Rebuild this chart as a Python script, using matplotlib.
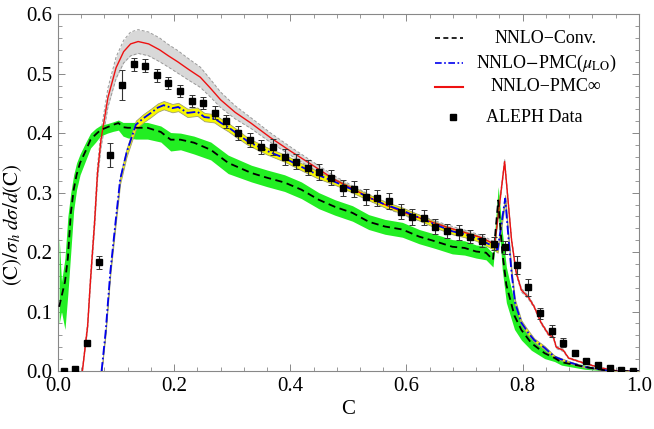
import numpy as np
import matplotlib
matplotlib.use("Agg")
import matplotlib.pyplot as plt
from matplotlib.ticker import MultipleLocator
from matplotlib.lines import Line2D

plt.rcParams["font.family"] = ["Liberation Serif", "DejaVu Serif"]
plt.rcParams["mathtext.fontset"] = "stix"

# ALEPH data (bin centres, values, errors)
x_data = [0.01, 0.03, 0.05, 0.07, 0.09, 0.11, 0.13, 0.15, 0.17, 0.19,
          0.21, 0.23, 0.25, 0.27, 0.29, 0.31, 0.33, 0.35, 0.37, 0.39,
          0.41, 0.43, 0.45, 0.47, 0.49, 0.51, 0.53, 0.55, 0.57, 0.59,
          0.61, 0.63, 0.65, 0.67, 0.69, 0.71, 0.73, 0.75, 0.77, 0.79,
          0.81, 0.83, 0.85, 0.87, 0.89, 0.91, 0.93, 0.95, 0.97, 0.99]
y_data = [0.0, 0.003, 0.048, 0.183, 0.363, 0.481, 0.516, 0.513, 0.497, 0.484,
          0.471, 0.454, 0.450, 0.434, 0.420, 0.400, 0.389, 0.377, 0.377, 0.360,
          0.352, 0.342, 0.335, 0.325, 0.308, 0.306, 0.293, 0.291, 0.286, 0.268,
          0.259, 0.258, 0.243, 0.236, 0.233, 0.226, 0.219, 0.214, 0.208, 0.178,
          0.141, 0.097, 0.067, 0.048, 0.030, 0.017, 0.010, 0.006, 0.002, 0.0]
err_data = [0.001, 0.002, 0.002, 0.011, 0.02, 0.025, 0.011, 0.011, 0.011, 0.01,
            0.01, 0.01, 0.01, 0.011, 0.011, 0.012, 0.012, 0.012, 0.013, 0.013,
            0.013, 0.013, 0.013, 0.013, 0.013, 0.013, 0.013, 0.013, 0.013, 0.013,
            0.013, 0.013, 0.012, 0.012, 0.012, 0.011, 0.011, 0.011, 0.011, 0.015,
            0.014, 0.009, 0.01, 0.0075, 0.005, 0.004, 0.003, 0.003, 0.002, 0.002]

# NNLO-PMC infinity (red) with grey band half-width
x_pmc = [0.042, 0.051, 0.056, 0.063, 0.068, 0.074, 0.086, 0.1, 0.113, 0.125,
         0.138, 0.156, 0.175, 0.19, 0.206, 0.225, 0.245, 0.262, 0.28, 0.305,
         0.332, 0.365, 0.4, 0.44, 0.476, 0.51, 0.55, 0.6, 0.666, 0.7,
         0.73, 0.752, 0.769, 0.781, 0.789, 0.798, 0.81, 0.82, 0.832, 0.845,
         0.853, 0.858, 0.87, 0.879, 0.907, 0.936, 0.965, 1.0]
y_pmc = [0.0, 0.076, 0.154, 0.25, 0.333, 0.389, 0.46, 0.51, 0.537, 0.55,
         0.554, 0.55, 0.54, 0.53, 0.52, 0.507, 0.494, 0.476, 0.456, 0.435,
         0.417, 0.393, 0.37, 0.345, 0.322, 0.305, 0.285, 0.265, 0.243, 0.233,
         0.224, 0.213, 0.352, 0.22, 0.165, 0.136, 0.124, 0.108, 0.081, 0.061,
         0.057, 0.04, 0.035, 0.022, 0.013, 0.005, 0.0, 0.0]
d_pmc = [0.004, 0.006, 0.008, 0.01, 0.012, 0.014, 0.016, 0.018, 0.019, 0.02,
         0.02, 0.02, 0.02, 0.019, 0.019, 0.018, 0.017, 0.015, 0.013, 0.011,
         0.009, 0.008, 0.007, 0.006, 0.006, 0.005, 0.005, 0.005, 0.004, 0.004,
         0.004, 0.004, 0.004, 0.003, 0.003, 0.003, 0.003, 0.002, 0.002, 0.002,
         0.002, 0.002, 0.002, 0.001, 0.001, 0.001, 0.0, 0.0]

# NNLO-PMC(mu_LO) (blue) with yellow band half-width
x_lo = [0.075, 0.082, 0.09, 0.099, 0.107, 0.118, 0.134, 0.147, 0.16, 0.172,
        0.182, 0.197, 0.207, 0.223, 0.24, 0.252, 0.269, 0.281, 0.293, 0.31,
        0.327, 0.36, 0.39, 0.42, 0.447, 0.477, 0.507, 0.535, 0.563, 0.593,
        0.622, 0.65, 0.679, 0.7, 0.72, 0.749, 0.757, 0.77, 0.776, 0.781,
        0.787, 0.798, 0.81, 0.82, 0.838, 0.855, 0.879, 0.907, 0.95, 1.0]
y_lo = [0.0, 0.066, 0.166, 0.25, 0.322, 0.367, 0.414, 0.425, 0.434, 0.443,
        0.447, 0.442, 0.444, 0.434, 0.436, 0.427, 0.425, 0.417, 0.41, 0.398,
        0.386, 0.37, 0.358, 0.343, 0.33, 0.318, 0.305, 0.292, 0.28, 0.27,
        0.258, 0.246, 0.235, 0.23, 0.224, 0.21, 0.204, 0.29, 0.22, 0.165,
        0.115, 0.081, 0.064, 0.052, 0.039, 0.024, 0.015, 0.007, 0.0, 0.0]
d_lo = [0.002, 0.004, 0.005, 0.006, 0.007, 0.007, 0.007, 0.007, 0.007, 0.007,
        0.007, 0.007, 0.007, 0.007, 0.007, 0.007, 0.007, 0.007, 0.007, 0.007,
        0.006, 0.006, 0.006, 0.006, 0.006, 0.005, 0.005, 0.005, 0.005, 0.005,
        0.005, 0.005, 0.005, 0.005, 0.005, 0.005, 0.005, 0.006, 0.006, 0.006,
        0.005, 0.004, 0.004, 0.003, 0.003, 0.002, 0.002, 0.001, 0.0, 0.0]

# NNLO-Conv (black dashed) with green band
x_conv = [0.002, 0.006, 0.012, 0.017, 0.022, 0.027, 0.032, 0.038, 0.048, 0.056,
          0.065, 0.073, 0.085, 0.095, 0.104, 0.112, 0.12, 0.134, 0.154, 0.177,
          0.194, 0.211, 0.234, 0.263, 0.293, 0.333, 0.36, 0.39, 0.419, 0.449,
          0.477, 0.507, 0.535, 0.563, 0.593, 0.622, 0.65, 0.679, 0.7, 0.72,
          0.737, 0.749, 0.758, 0.765, 0.772, 0.786, 0.798, 0.815, 0.838, 0.855,
          0.867, 0.907, 0.95, 1.0]
y_conv = [0.108, 0.125, 0.15, 0.19, 0.265, 0.305, 0.33, 0.35, 0.371, 0.389,
          0.398, 0.405, 0.41, 0.414, 0.417, 0.41, 0.409, 0.409, 0.409, 0.402,
          0.389, 0.389, 0.384, 0.372, 0.35, 0.333, 0.325, 0.317, 0.305, 0.288,
          0.276, 0.266, 0.251, 0.243, 0.238, 0.226, 0.218, 0.209, 0.207, 0.201,
          0.199, 0.187, 0.287, 0.2, 0.145, 0.093, 0.069, 0.047, 0.030, 0.022,
          0.015, 0.007, 0.0, 0.0]
lo_conv = [0.08, 0.10, 0.07, 0.13, 0.2, 0.27, 0.305, 0.33, 0.355, 0.375,
           0.385, 0.395, 0.40, 0.403, 0.405, 0.395, 0.392, 0.39, 0.39, 0.385,
           0.37, 0.372, 0.365, 0.355, 0.332, 0.318, 0.31, 0.302, 0.29, 0.273,
           0.262, 0.252, 0.238, 0.23, 0.225, 0.214, 0.206, 0.197, 0.195, 0.19,
           0.187, 0.175, 0.265, 0.17, 0.115, 0.07, 0.052, 0.035, 0.021, 0.016,
           0.01, 0.003, 0.0, 0.0]
hi_conv = [0.225, 0.15, 0.19, 0.26, 0.30, 0.33, 0.35, 0.365, 0.385, 0.40,
           0.408, 0.413, 0.416, 0.419, 0.422, 0.418, 0.418, 0.418, 0.418, 0.412,
           0.401, 0.4, 0.395, 0.385, 0.363, 0.346, 0.338, 0.33, 0.318, 0.3,
           0.288, 0.278, 0.263, 0.255, 0.25, 0.238, 0.23, 0.221, 0.219, 0.212,
           0.21, 0.198, 0.31, 0.235, 0.175, 0.115, 0.085, 0.058, 0.038, 0.027,
           0.019, 0.01, 0.0, 0.0]

fig = plt.figure(figsize=(6.54, 4.29), dpi=100)
ax = fig.add_axes([0.0887, 0.135, 0.888, 0.832])

y_pmc_a = np.array(y_pmc)
d_pmc_a = np.array(d_pmc)
y_lo_a = np.array(y_lo)
d_lo_a = np.array(d_lo)

# bands
ax.fill_between(x_pmc, np.clip(y_pmc_a - d_pmc_a, 0, None), y_pmc_a + d_pmc_a,
                color="#d8d8d8", lw=0, zorder=1)
ax.plot(x_pmc, y_pmc_a + d_pmc_a, color="#999999", lw=0.7, ls=(0, (3, 2)), zorder=1.1)
ax.plot(x_pmc, np.clip(y_pmc_a - d_pmc_a, 0, None), color="#999999", lw=0.7, ls=(0, (3, 2)), zorder=1.1)

ax.fill_between(x_conv, lo_conv, hi_conv, color="#22ee22", lw=0, zorder=2)

ax.fill_between(x_lo, np.clip(y_lo_a - d_lo_a, 0, None), y_lo_a + d_lo_a,
                facecolor="#f8f800", edgecolor="#a0a070", lw=0.6, zorder=3)

# central curves
ax.plot(x_pmc, y_pmc, color="#ee1111", lw=1.0, zorder=5)
ax.plot(x_lo, y_lo, color="#0000ee", lw=1.3, ls=(0, (5, 1.5, 1, 1.5)), zorder=5)
ax.plot(x_conv, y_conv, color="black", lw=1.3, ls=(0, (4, 2.5)), zorder=5)

# data
ax.errorbar(x_data, y_data, yerr=err_data, fmt="s", color="black", ms=4,
            ecolor="#333333", elinewidth=0.8, capsize=2, capthick=0.7, zorder=6)

ax.set_xlim(0, 1.0)
ax.set_ylim(0, 0.6)
ax.xaxis.set_major_locator(MultipleLocator(0.2))
ax.xaxis.set_minor_locator(MultipleLocator(0.04))
ax.yaxis.set_major_locator(MultipleLocator(0.1))
ax.yaxis.set_minor_locator(MultipleLocator(0.02))
ax.xaxis.set_major_formatter(lambda v, p: f"{v:.1f}")
ax.yaxis.set_major_formatter(lambda v, p: f"{v:.1f}")
ax.tick_params(which="both", direction="in", top=True, right=True, color="#888888",
               labelsize=15)
ax.tick_params(which="major", length=5, width=0.7, pad=4)
ax.tick_params(which="minor", length=3, width=0.6)
for sp in ax.spines.values():
    sp.set_color("#888888")
    sp.set_linewidth(0.8)

ax.set_xlabel("C", fontsize=15, labelpad=3)
ax.set_ylabel(r"$(\mathrm{C})/\sigma_h\;d\sigma/d(\mathrm{C})$", fontsize=15)
ax.yaxis.set_label_coords(-0.058, 0.41)

# legend
tr = ax.transAxes
rows = [0.933, 0.863, 0.796, 0.711]
ax.add_line(Line2D([0.649, 0.697], [rows[0]] * 2, transform=tr, color="black", lw=1.2, ls=(0, (3, 2))))
ax.add_line(Line2D([0.649, 0.697], [rows[1]] * 2, transform=tr, color="#0000ee", lw=1.2, ls=(0, (4, 1.5, 1, 1.5))))
ax.add_line(Line2D([0.649, 0.697], [rows[2]] * 2, transform=tr, color="#ee1111", lw=1.5))
ax.add_line(Line2D([0.68], [rows[3]], transform=tr, color="black", marker="s", ms=5, ls="none"))
ax.text(0.84, rows[0], "NNLO\u2212Conv.", transform=tr, ha="center", va="center", fontsize=13)
ax.text(0.84, rows[1], r"NNLO$-$PMC($\mu_{\mathrm{LO}}$)", transform=tr, ha="center", va="center", fontsize=13)
ax.text(0.84, rows[2], "NNLO\u2212PMC\u221e", transform=tr, ha="center", va="center", fontsize=13)
ax.text(0.82, rows[3], "ALEPH Data", transform=tr, ha="center", va="center", fontsize=13)

fig.savefig("out.png", dpi=100)
